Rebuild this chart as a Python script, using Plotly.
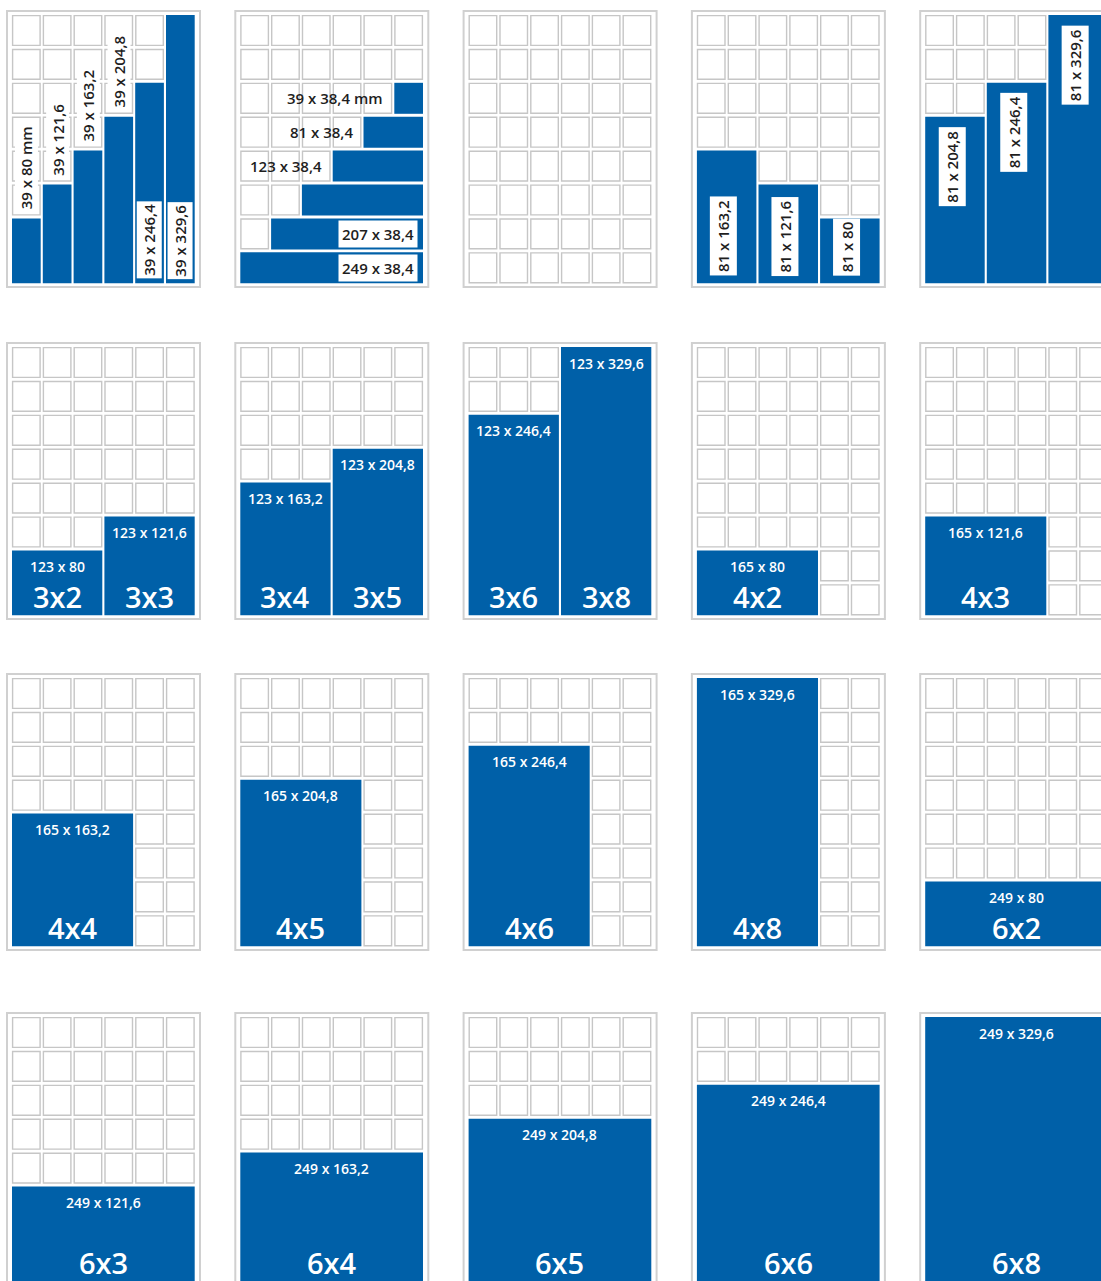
import plotly.graph_objects as go

# ---------------- data ----------------
# panels are numbered row by row (5 per row, 4 rows); each panel is a 6 x 8 label sheet
block_panel = [0, 0, 0, 0, 0, 0,
               1, 1, 1, 1, 1, 1,
               3, 3, 3,
               4, 4, 4,
               5, 5, 6, 6, 7, 7, 8, 9,
               10, 11, 12, 13, 14,
               15, 16, 17, 18, 19]
block_col = [0, 1, 2, 3, 4, 5,
             5, 4, 3, 2, 1, 0,
             0, 2, 4,
             0, 2, 4,
             0, 3, 0, 3, 0, 3, 0, 0,
             0, 0, 0, 0, 0,
             0, 0, 0, 0, 0]
block_ncols = [1, 1, 1, 1, 1, 1,
               1, 2, 3, 4, 5, 6,
               2, 2, 2,
               2, 2, 2,
               3, 3, 3, 3, 3, 3, 4, 4,
               4, 4, 4, 4, 6,
               6, 6, 6, 6, 6]
block_nrows = [2, 3, 4, 5, 6, 8,
               1, 1, 1, 1, 1, 1,
               4, 3, 2,
               5, 6, 8,
               2, 3, 4, 5, 6, 8, 2, 3,
               4, 5, 6, 8, 2,
               3, 4, 5, 6, 8]
block_size = ["39 x 80 mm", "39 x 121,6", "39 x 163,2", "39 x 204,8", "39 x 246,4", "39 x 329,6",
              "39 x 38,4 mm", "81 x 38,4", "123 x 38,4", "", "207 x 38,4", "249 x 38,4",
              "81 x 163,2", "81 x 121,6", "81 x 80",
              "81 x 204,8", "81 x 246,4", "81 x 329,6",
              "123 x 80", "123 x 121,6", "123 x 163,2", "123 x 204,8", "123 x 246,4", "123 x 329,6",
              "165 x 80", "165 x 121,6",
              "165 x 163,2", "165 x 204,8", "165 x 246,4", "165 x 329,6", "249 x 80",
              "249 x 121,6", "249 x 163,2", "249 x 204,8", "249 x 246,4", "249 x 329,6"]
block_name = ["", "", "", "", "", "",
              "", "", "", "", "", "",
              "", "", "",
              "", "", "",
              "3x2", "3x3", "3x4", "3x5", "3x6", "3x8", "4x2", "4x3",
              "4x4", "4x5", "4x6", "4x8", "6x2",
              "6x3", "6x4", "6x5", "6x6", "6x8"]

# ---------------- layout / style ----------------
W, H = 1101, 1281
N_PANEL_COLS, N_PANEL_ROWS = 5, 4
GRID_COLS, GRID_ROWS = 6, 8
PANEL_X0, PANEL_DX = 7, 228.3
PANEL_Y0 = [11, 343, 674, 1013]
PANEL_W, PANEL_H = 193, 276
PAD_X, PAD_Y = 5, 4
PITCH_X, PITCH_Y = 30.8, 33.9
CELL_W, CELL_H = 28.7, 31.0
BLUE = "#0060a8"
CELL_LINE = "#c6c6c6"
BORDER = "#d0d0d0"
DARK = "#1e1e1e"
FONT = "Open Sans"
# how the size labels of the first row of panels are placed
LABEL_PLACE = {0: "v-stack", 1: "h-stack", 3: "v-bottom", 4: "v-top"}


def grid_origin(p):
    pr, pc = divmod(p, N_PANEL_COLS)
    px = PANEL_X0 + pc * PANEL_DX
    py = PANEL_Y0[pr]
    return px, py, px + PAD_X, py + PAD_Y


def span(g, start, n, pitch, size):
    return g + start * pitch, g + (start + n - 1) * pitch + size


# block top rows: blocks sit on the bottom of the sheet, except the
# horizontal strips of panel 1 which step down one row each
block_row = []
for i, p in enumerate(block_panel):
    if p == 1:
        block_row.append(2 + block_ncols[i] - 1)
    else:
        block_row.append(GRID_ROWS - block_nrows[i])

shapes = []
annotations = []

for p in range(N_PANEL_COLS * N_PANEL_ROWS):
    px, py, gx, gy = grid_origin(p)
    shapes.append(dict(type="rect", xref="x", yref="y", x0=px, x1=px + PANEL_W,
                       y0=py, y1=py + PANEL_H, line=dict(color=BORDER, width=2),
                       fillcolor="white", layer="below"))
    covered = set()
    for i, bp in enumerate(block_panel):
        if bp == p:
            for c in range(block_col[i], block_col[i] + block_ncols[i]):
                for r in range(block_row[i], block_row[i] + block_nrows[i]):
                    covered.add((c, r))
    for c in range(GRID_COLS):
        for r in range(GRID_ROWS):
            if (c, r) in covered:
                continue
            x0, x1 = span(gx, c, 1, PITCH_X, CELL_W)
            y0, y1 = span(gy, r, 1, PITCH_Y, CELL_H)
            shapes.append(dict(type="rect", xref="x", yref="y", x0=x0 + 0.6, x1=x1 - 0.6,
                               y0=y0 + 0.6, y1=y1 - 0.6,
                               line=dict(color=CELL_LINE, width=1.4), fillcolor="white"))

for i, p in enumerate(block_panel):
    px, py, gx, gy = grid_origin(p)
    x0, x1 = span(gx, block_col[i], block_ncols[i], PITCH_X, CELL_W)
    y0, y1 = span(gy, block_row[i], block_nrows[i], PITCH_Y, CELL_H)
    shapes.append(dict(type="rect", xref="x", yref="y", x0=x0, x1=x1, y0=y0, y1=y1,
                       line=dict(width=0), fillcolor=BLUE))
    xc = (x0 + x1) / 2
    txt = block_size[i]
    if not txt:
        continue
    if p in LABEL_PLACE:
        mode = LABEL_PLACE[p]
        dark = dict(family=FONT, size=15, color=DARK, weight=600)
        if mode == "v-stack":
            if block_nrows[i] >= 6:
                annotations.append(dict(x=xc, y=y1 - 4, text=txt, textangle=-90,
                                        yanchor="bottom", xanchor="center", bgcolor="white",
                                        borderpad=2, font=dark))
            else:
                annotations.append(dict(x=xc, y=y0 - 7, text=txt, textangle=-90,
                                        yanchor="bottom", xanchor="center", bgcolor="white",
                                        borderpad=1, font=dark))
        elif mode == "h-stack":
            yc = (y0 + y1) / 2
            if block_ncols[i] >= 5:
                annotations.append(dict(x=x1 - 5, y=yc, text=txt, xanchor="right",
                                        yanchor="middle", bgcolor="white", borderpad=3,
                                        font=dark))
            else:
                annotations.append(dict(x=x0 - 9, y=yc, text=txt, xanchor="right",
                                        yanchor="middle", font=dark))
        elif mode == "v-bottom":
            annotations.append(dict(x=xc - 3, y=y1 - 7, text=txt, textangle=-90,
                                    yanchor="bottom", xanchor="center", bgcolor="white",
                                    borderpad=3, font=dark))
        elif mode == "v-top":
            annotations.append(dict(x=xc - 3, y=y0 + 10, text=txt, textangle=-90,
                                    yanchor="top", xanchor="center", bgcolor="white",
                                    borderpad=3, font=dark))
    else:
        annotations.append(dict(x=xc, y=y0 + 16, text=txt, xanchor="center",
                                yanchor="middle",
                                font=dict(family=FONT, size=14, color="white", weight=600)))
        annotations.append(dict(x=xc, y=min(y1, H) - 19, text=block_name[i], xanchor="center",
                                yanchor="middle",
                                font=dict(family=FONT, size=29, color="white", weight=600)))

for a in annotations:
    a.update(xref="x", yref="y", showarrow=False)

fig = go.Figure()
fig.update_layout(
    width=W, height=H, margin=dict(l=0, r=0, t=0, b=0),
    paper_bgcolor="white", plot_bgcolor="white",
    xaxis=dict(range=[0, W], visible=False, fixedrange=True),
    yaxis=dict(range=[H, 0], visible=False, fixedrange=True),
    shapes=shapes, annotations=annotations, showlegend=False,
)
fig.write_html("out.html", config={"displayModeBar": False},
               post_script="document.body.style.margin='0';"
                           "document.body.style.overflow='hidden';")
